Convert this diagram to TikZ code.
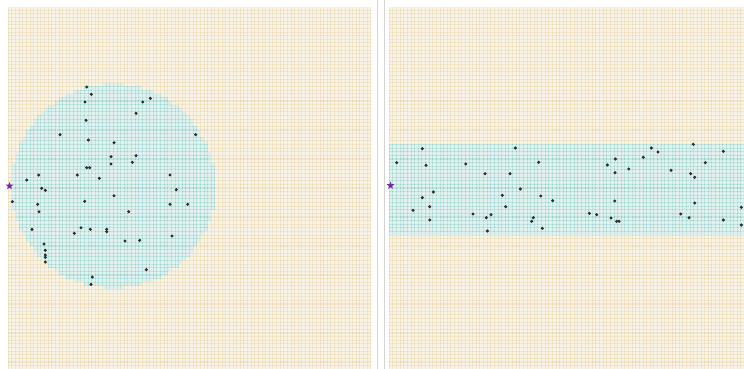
\documentclass[tikz,border=0pt]{standalone}
\usetikzlibrary{shapes.geometric}
\definecolor{beigeC}{RGB}{232,214,168}
\definecolor{tealC}{RGB}{150,208,202}
\definecolor{dotC}{RGB}{45,45,45}
\definecolor{starC}{RGB}{120,40,175}
\definecolor{sepC}{RGB}{212,212,212}
\tikzset{
  dot/.style={circle,fill=dotC,inner sep=0pt,minimum size=3.4pt},
  startstar/.style={star,star points=5,star point ratio=2.3,fill=starC,inner sep=0pt,minimum size=8pt},
  stripe/.style={fill=white,fill opacity=0.45},
  sepline/.style={draw=sepC,line width=1pt},
}
\begin{document}
\begin{tikzpicture}[x=1pt,y=-1pt]
\useasboundingbox (0,0) rectangle (744,369);
\fill[white] (0,0) rectangle (744,369);
\clip (0,0) rectangle (744,369);
\def\p{3.625}
\def\oy{6.7}
\def\lw{1.1}
% ---------- left panel ----------
\def\ox{8.3}
\fill[beigeC] (\ox,\oy) rectangle ({\ox+100*\p},{\oy+100*\p});
\foreach \j in {0,...,99}{
  \pgfmathsetmacro{\hh}{28.2*28.2-(\j-49)*(\j-49)}
  \ifdim\hh pt>0pt
    \pgfmathsetmacro{\s}{sqrt(\hh)}
    \pgfmathsetmacro{\lo}{ceil(28.5-\s)}
    \pgfmathsetmacro{\hi}{floor(28.5+\s)}
    \fill[tealC] ({\ox+\lo*\p},{\oy+\j*\p}) rectangle ({\ox+(\hi+1)*\p},{\oy+(\j+1)*\p});
  \fi
}
\foreach \k in {0,...,99}{
  \fill[stripe] ({\ox+\k*\p+\lw/2},\oy) rectangle ({\ox+(\k+1)*\p-\lw/2},{\oy+100*\p});
  \fill[stripe] (\ox,{\oy+\k*\p+\lw/2}) rectangle ({\ox+100*\p},{\oy+(\k+1)*\p-\lw/2});
}
% ---------- right panel ----------
\def\oxr{389.3}
\fill[beigeC] (\oxr,\oy) rectangle ({\oxr+100*\p},{\oy+100*\p});
\fill[tealC] (\oxr,{\oy+38*\p}) rectangle ({\oxr+100*\p},{\oy+63*\p});
\foreach \k in {0,...,99}{
  \fill[stripe] ({\oxr+\k*\p+\lw/2},\oy) rectangle ({\oxr+(\k+1)*\p-\lw/2},{\oy+100*\p});
  \fill[stripe] (\oxr,{\oy+\k*\p+\lw/2}) rectangle ({\oxr+100*\p},{\oy+(\k+1)*\p-\lw/2});
}
% separators
\coordinate (s1t) at (377.5,0); \coordinate (s1b) at (377.5,369);
\coordinate (s2t) at (384,0); \coordinate (s2b) at (384,369);
\draw[sepline] (s1t) -- (s1b);
\draw[sepline] (s2t) -- (s2b);
% dots left
\foreach \x/\y [count=\i] in {86.7/87,91.3/94.3,85/102,150.3/98.3,142.7/102,136/113.3,86/120.3,60/134.7,195.7/134.7,88.3/140,114/142.7,111/156.7,136/155.7,111/164,132.3/162.3,86.7/167.7,89.7/167.7,38.7/175,77.3/175,170/175,99.3/178.3,26.7/180,41.7/188.3,45.3/190.3,114/195.7,176.3/189.7,84.7/201.3,12.3/201.7,37.7/204.3,170/204.3,187.7/204.3,39/211.7,128.7/211.7,32/229.3,81/227.7,90.3/229.3,74.3/233.3,106.7/229.3,106.7/231.7,125/241,139.7/240.3,172/236,44/244,45.3/250.3,45.3/255,45.3/257.3,45.3/262,146.3/269.7,92.3/277,91/284.3}
  \node[dot] (l\i) at (\x,\y) {};
% dots right
\foreach \x/\y [count=\i] in {422.3/148.7,515.3/148,396.7/162.7,426/165.3,465.7/164,538.7/162.3,485/173.7,510/173.7,520.3/189,433.3/192,422.3/197.7,502.3/195.3,540.7/196,552.7/200.7,429.7/206.7,505.7/206.7,413/210.3,473/214,491/214.7,486.3/217.7,429.7/220,533.3/217.7,531.7/221.3,542.3/228.3,487.3/231,693.3/144.3,651.3/148,658/152,723.3/151.3,615.3/159,643.3/157.3,705.3/162.7,607.3/165,628.7/169,671/170.3,615/172.7,690.7/173.7,694.7/177.3,614.7/201,694.7/203,741.3/207.3,589.3/213.3,596.7/214.7,611/218,616.7/221.3,619/221.3,680.7/214,689/217.7,723.3/220,741.3/225}
  \node[dot] (r\i) at (\x,\y) {};
% start stars
\node[startstar] (startL) at (9.5,186) {};
\node[startstar] (startR) at (390.5,185.5) {};
\end{tikzpicture}
\end{document}
